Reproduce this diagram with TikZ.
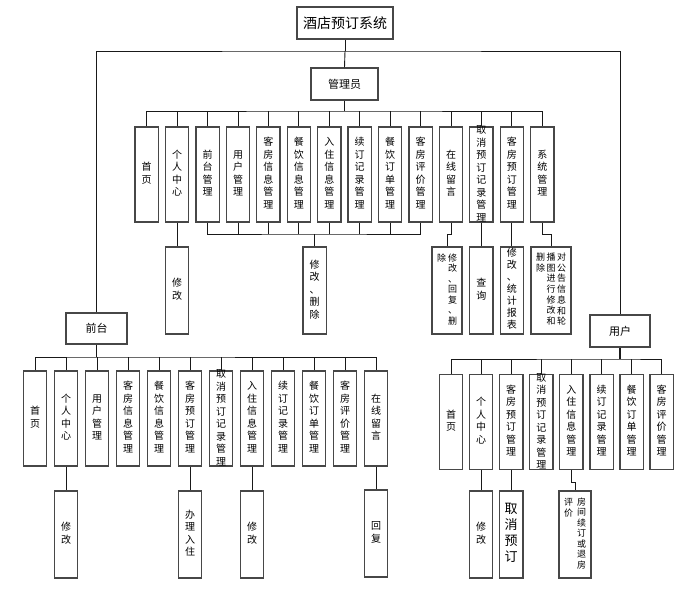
\documentclass[tikz,border=0pt]{standalone}
\usepackage{fontspec}
\setmainfont{Noto Sans CJK SC}
\newcommand{\vc}[1]{\begin{tabular}[t]{@{}c@{}}#1\end{tabular}}
\newcommand{\vcs}[1]{\smash{\raisebox{-3pt}{\begin{tabular}[c]{@{}c@{}}#1\end{tabular}}}}
\begin{document}
\begin{tikzpicture}[x=1pt,y=-1pt,
  bx/.style={draw=black!72, line width=1.3pt, inner sep=0pt, fill=white},
  tall/.style={bx, minimum width=23.3pt, minimum height=95pt, font=\fontsize{10}{12.5}\selectfont},
  sub/.style={bx, minimum width=23.3pt, minimum height=87pt, font=\fontsize{10}{12.5}\selectfont},
  conn/.style={draw=black!90, line width=0.9pt},
  trunk/.style={draw=black!90, line width=1.8pt}]
\useasboundingbox (0,0) rectangle (691,598);
% top
\node[bx, minimum width=96pt, minimum height=32pt, font=\fontsize{14}{16}\selectfont] (title) at (345,23) {酒店预订系统};
\node[bx, minimum width=67pt, minimum height=32pt, font=\fontsize{11}{13}\selectfont] (admin) at (344.5,84) {管理员};
\node[bx, minimum width=61pt, minimum height=31pt, font=\fontsize{11}{13}\selectfont] (front) at (96.5,328.5) {前台};
\node[bx, minimum width=60pt, minimum height=32pt, font=\fontsize{11}{13}\selectfont] (user) at (620,331) {用户};
\coordinate (j0) at (345,51);
\draw[conn] (title.south) -- (j0);
\draw[conn] (j0) -- (admin.north);
\draw[conn] (front.north) |- (j0) -| (user.north);
% admin boxes
\node[tall] (a1) at (146.7,174.5) {\vc{首\\页}};
\node[tall] (a2) at (177.1,174.5) {\vc{个\\人\\中\\心}};
\node[tall] (a3) at (207.6,174.5) {\vc{前\\台\\管\\理}};
\node[tall] (a4) at (238.0,174.5) {\vc{用\\户\\管\\理}};
\node[tall] (a5) at (268.4,174.5) {\vc{客\\房\\信\\息\\管\\理}};
\node[tall] (a6) at (298.9,174.5) {\vc{餐\\饮\\信\\息\\管\\理}};
\node[tall] (a7) at (329.3,174.5) {\vc{入\\住\\信\\息\\管\\理}};
\node[tall] (a8) at (359.7,174.5) {\vc{续\\订\\记\\录\\管\\理}};
\node[tall] (a9) at (390.1,174.5) {\vc{餐\\饮\\订\\单\\管\\理}};
\node[tall] (a10) at (420.6,174.5) {\vc{客\\房\\评\\价\\管\\理}};
\node[tall] (a11) at (451.0,174.5) {\vc{在\\线\\留\\言}};
\node[tall] (a12) at (481.4,174.5) {\vcs{取\\消\\预\\订\\记\\录\\管\\理}};
\node[tall] (a13) at (511.9,174.5) {\vc{客\\房\\预\\订\\管\\理}};
\node[tall] (a14) at (542.3,174.5) {\vc{系\\统\\管\\理}};
\coordinate (ab) at (344.5,111);
\draw[trunk] (admin.south) -- (ab);
\draw[conn] (a1.north) |- (ab) -| (a14.north);
\foreach \i in {2,...,13} \draw[conn] (a\i.north) -- (a\i.north |- ab);
% admin subs
\node[sub] (m1) at (177.1,290.5) {\vc{修\\改}};
\node[sub] (m2) at (314.5,290.5) {\vc{修\\改\\、\\删\\除}};
\node[sub, minimum width=30pt, font=\fontsize{9}{10.5}\selectfont] (m3) at (447,290.5) {\vc{除}\hspace{2pt}\vc{修\\改\\、\\回\\复\\、\\删}};
\node[sub] (m4) at (481.4,290.5) {\vc{查\\询}};
\node[sub, font=\fontsize{10}{12}\selectfont] (m5) at (511.9,290.5) {\vc{修\\改\\、\\统\\计\\报\\表}};
\node[sub, minimum width=40pt, font=\fontsize{9}{10.5}\selectfont] (m6) at (551,290.5) {\vc{删\\除}\hspace{1.5pt}\vc{播\\图\\进\\行\\修\\改\\和}\hspace{1.5pt}\vc{对\\公\\告\\信\\息\\和\\轮}};
\coordinate (gm) at (314.5,234);
\draw[conn] (a3.south) |- (gm) -| (a10.south);
\foreach \i in {4,...,9} \draw[conn] (a\i.south) -- (a\i.south |- gm);
\draw[conn] (gm) -- (m2.north);
\draw[conn] (a2.south) -- (m1.north);
\draw[conn] (a11.south) -- ++(0,12) -| (m3.north);
\draw[conn] (a12.south) -- (m4.north);
\draw[conn] (a13.south) -- (m5.north);
\draw[conn] (a14.south) -- ++(0,12) -| (m6.north);
% front boxes
\node[tall] (f1) at (35,418.5) {\vc{首\\页}};
\node[tall] (f2) at (66,418.5) {\vc{个\\人\\中\\心}};
\node[tall] (f3) at (97,418.5) {\vc{用\\户\\管\\理}};
\node[tall] (f4) at (128,418.5) {\vc{客\\房\\信\\息\\管\\理}};
\node[tall] (f5) at (159,418.5) {\vc{餐\\饮\\信\\息\\管\\理}};
\node[tall] (f6) at (190,418.5) {\vc{客\\房\\预\\订\\管\\理}};
\node[tall] (f7) at (221,418.5) {\vcs{取\\消\\预\\订\\记\\录\\管\\理}};
\node[tall] (f8) at (252,418.5) {\vc{入\\住\\信\\息\\管\\理}};
\node[tall] (f9) at (283,418.5) {\vc{续\\订\\记\\录\\管\\理}};
\node[tall] (f10) at (314,418.5) {\vc{餐\\饮\\订\\单\\管\\理}};
\node[tall] (f11) at (345,418.5) {\vc{客\\房\\评\\价\\管\\理}};
\node[tall] (f12) at (376,418.5) {\vc{在\\线\\留\\言}};
\coordinate (fb) at (96.5,357);
\draw[trunk] (front.south) -- (fb);
\draw[conn] (f1.north) |- (fb) -| (f12.north);
\foreach \i in {2,...,11} \draw[conn] (f\i.north) -- (f\i.north |- fb);
\node[sub] (s1) at (66,534.5) {\vc{修\\改}};
\node[sub] (s2) at (190,534.5) {\vc{办\\理\\入\\住}};
\node[sub] (s3) at (252,534.5) {\vc{修\\改}};
\node[sub] (s4) at (376,533.5) {\vc{回\\复}};
\draw[conn] (f2.south) -- (s1.north);
\draw[conn] (f6.south) -- (s2.north);
\draw[conn] (f8.south) -- (s3.north);
\draw[conn] (f12.south) -- (s4.north);
% user boxes
\node[tall] (u1) at (451,422) {\vc{首\\页}};
\node[tall] (u2) at (481.1,422) {\vc{个\\人\\中\\心}};
\node[tall] (u3) at (511.2,422) {\vc{客\\房\\预\\订\\管\\理}};
\node[tall] (u4) at (541.3,422) {\vcs{取\\消\\预\\订\\记\\录\\管\\理}};
\node[tall] (u5) at (571.4,422) {\vc{入\\住\\信\\息\\管\\理}};
\node[tall] (u6) at (601.5,422) {\vc{续\\订\\记\\录\\管\\理}};
\node[tall] (u7) at (631.6,422) {\vc{餐\\饮\\订\\单\\管\\理}};
\node[tall] (u8) at (661.7,422) {\vc{客\\房\\评\\价\\管\\理}};
\coordinate (ub) at (620,359);
\draw[trunk] (user.south) -- (ub);
\draw[conn] (u1.north) |- (ub) -| (u8.north);
\foreach \i in {2,...,7} \draw[conn] (u\i.north) -- (u\i.north |- ub);
\node[sub] (v1) at (481.1,534.5) {\vc{修\\改}};
\node[sub, font=\fontsize{13}{16}\selectfont] (v2) at (511.2,534.5) {\vc{取\\消\\预\\订}};
\node[sub, minimum width=32pt, font=\fontsize{9}{10}\selectfont] (v3) at (575,534.5) {\vc{评\\价}\hspace{4pt}\vc{房\\间\\续\\订\\或\\退\\房}};
\draw[conn] (u2.south) -- (v1.north);
\draw[conn] (u3.south) -- (v2.north);
\draw[conn] (u5.south) -- ++(0,12) -| (v3.north);
\end{tikzpicture}
\end{document}
